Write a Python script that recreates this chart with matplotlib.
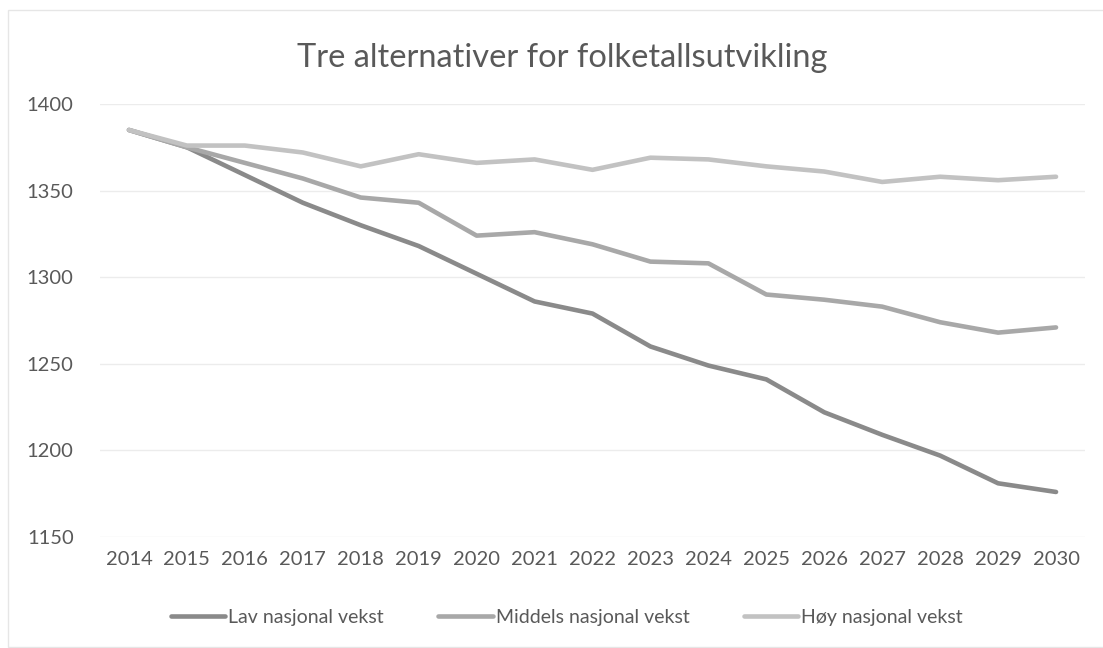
import matplotlib.pyplot as plt

# Tre alternativer for folketallsutvikling (verdier lest av figuren)
years = [str(y) for y in range(2014, 2031)]
lav = [1385, 1375, 1359, 1343, 1330, 1318, 1302, 1286, 1279, 1260, 1249, 1241,
       1222, 1209, 1197, 1181, 1176]
middels = [1385, 1375, 1366, 1357, 1346, 1343, 1324, 1326, 1319, 1309, 1308, 1290,
           1287, 1283, 1274, 1268, 1271]
hoy = [1385, 1376, 1376, 1372, 1364, 1371, 1366, 1368, 1362, 1369, 1368, 1364,
       1361, 1355, 1358, 1356, 1358]

series = [
    ('Lav nasjonal vekst', lav, '#8a8a8a'),
    ('Middels nasjonal vekst', middels, '#a8a8a8'),
    ('Høy nasjonal vekst', hoy, '#c2c2c2'),
]

plt.rcParams['font.family'] = ['Lato', 'DejaVu Sans']
text_color = '#595959'

fig = plt.figure(figsize=(11.03, 6.48), dpi=100)
ax = fig.add_axes([100 / 1103, 1 - 537 / 648, 985 / 1103, 433 / 648])

x = list(range(len(years)))
for name, vals, color in series:
    ax.plot(x, vals, color=color, linewidth=3.3, label=name,
            solid_capstyle='round', solid_joinstyle='round')

ax.set_xlim(-0.5, len(years) - 0.5)
ax.set_ylim(1150, 1400)
ax.set_yticks([1150, 1200, 1250, 1300, 1350, 1400])
ax.set_xticks(x)
ax.set_xticklabels(years)
ax.tick_params(axis='both', length=0, labelsize=14.5, colors=text_color)
ax.tick_params(axis='y', pad=19)
ax.tick_params(axis='x', pad=10)
ax.grid(axis='y', color='#ececec', linewidth=1)
ax.set_axisbelow(True)
for s in ax.spines.values():
    s.set_visible(False)

fig.text(562 / 1103, 1 - 58 / 648, 'Tre alternativer for folketallsutvikling',
         ha='center', va='center', fontsize=23.5, color=text_color)

leg = fig.legend(loc='center', bbox_to_anchor=(567 / 1103, 1 - 617 / 648), ncol=3,
                 frameon=False, fontsize=14, handlelength=2.8, handletextpad=0.15,
                 columnspacing=2.8)
for t in leg.get_texts():
    t.set_color(text_color)

# svak ramme rundt diagrammet
fig.patches.append(plt.Rectangle((8 / 1103, 0.002), 1.2, 1 - 10 / 648 - 0.002,
                                 transform=fig.transFigure, fill=False,
                                 edgecolor='#e6e6e6', linewidth=1))

fig.savefig('out.png', dpi=100)
